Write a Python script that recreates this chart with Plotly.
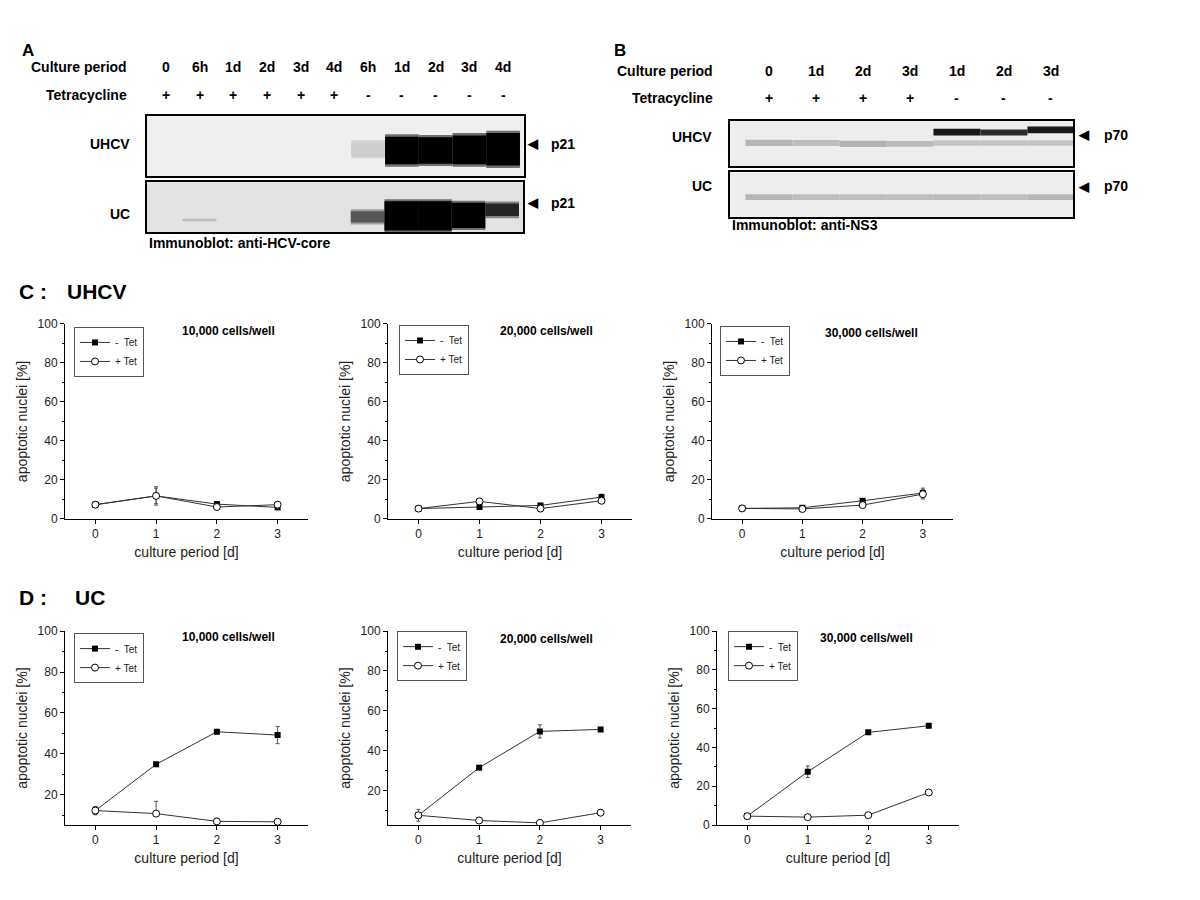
import plotly.graph_objects as go

FONT = "Arial, 'Liberation Sans', sans-serif"

# ---- western blots (A, B) ----
A_PERIOD = ["0", "6h", "1d", "2d", "3d", "4d", "6h", "1d", "2d", "3d", "4d"]
A_TET = ["+", "+", "+", "+", "+", "+", "-", "-", "-", "-", "-"]
# band intensity (0..1), band centre and thickness (fraction of the strip)
A_UHCV_INT = [0, 0, 0, 0, 0, 0, 0.1, 1, 1, 1, 1]
A_UHCV_MID = [0, 0, 0, 0, 0, 0, 0.45, 0.43, 0.43, 0.44, 0.45]
A_UHCV_THK = [0, 0, 0, 0, 0, 0, 0.22, 0.46, 0.44, 0.48, 0.54]
A_UC_INT = [0, 0.2, 0, 0, 0, 0, 0.65, 1, 1, 1, 0.85]
A_UC_MID = [0, 0.25, 0, 0, 0, 0, 0.31, 0.33, 0.33, 0.34, 0.45]
A_UC_THK = [0, 0.05, 0, 0, 0, 0, 0.22, 0.58, 0.58, 0.5, 0.25]

B_PERIOD = ["0", "1d", "2d", "3d", "1d", "2d", "3d"]
B_TET = ["+", "+", "+", "+", "-", "-", "-"]
B_UHCV_LOW_INT = [0.24, 0.2, 0.26, 0.22, 0.16, 0.16, 0.16]
B_UHCV_LOW_MID = [0.52, 0.52, 0.5, 0.5, 0.52, 0.52, 0.52]
B_UHCV_LOW_THK = [0.14, 0.13, 0.14, 0.13, 0.12, 0.12, 0.12]
B_UHCV_HIGH_INT = [0, 0, 0, 0, 0.9, 0.82, 0.9]
B_UHCV_HIGH_MID = [0, 0, 0, 0, 0.76, 0.75, 0.81]
B_UHCV_HIGH_THK = [0, 0, 0, 0, 0.15, 0.13, 0.15]
B_UC_INT = [0.24, 0.2, 0.2, 0.2, 0.22, 0.2, 0.24]
B_UC_MID = [0.44, 0.44, 0.44, 0.44, 0.44, 0.44, 0.44]
B_UC_THK = [0.13, 0.13, 0.13, 0.13, 0.13, 0.13, 0.13]

# ---- apoptosis time courses (C: UHCV, D: UC) ----
DAYS = [0, 1, 2, 3]
CELLS = ["10,000 cells/well", "20,000 cells/well", "30,000 cells/well"]

UHCV_MINUS = [[7.3, 11.8, 7.6, 5.9], [5.3, 6.1, 6.9, 11.2], [5.4, 5.7, 9.3, 13.3]]
UHCV_MINUS_ERR = [[1.0, 4.0, 0.8, 0.8], [0.8, 1.0, 1.0, 1.5], [0.8, 1.0, 1.0, 2.5]]
UHCV_PLUS = [[7.3, 11.8, 6.1, 7.3], [5.3, 9.0, 5.3, 9.3], [5.4, 5.1, 7.1, 12.7]]
UHCV_PLUS_ERR = [[1.0, 4.7, 0.8, 0.8], [0.8, 1.0, 0.8, 1.0], [0.8, 1.0, 1.0, 2.5]]

UC_MINUS = [[12.3, 34.9, 50.8, 49.2], [7.6, 31.5, 49.7, 50.7], [4.6, 27.5, 47.8, 51.2]]
UC_MINUS_ERR = [[2.0, 1.0, 1.0, 4.2], [1.0, 1.0, 3.3, 1.0], [0.8, 3.0, 1.0, 1.0]]
UC_PLUS = [[12.3, 10.8, 7.0, 6.8], [7.6, 5.0, 3.8, 8.9], [4.6, 4.1, 5.1, 16.8]]
UC_PLUS_ERR_UP = [[2.0, 6.0, 1.5, 0.5], [3.0, 0.8, 0.5, 0.8], [0.8, 0.5, 0.5, 0.8]]
UC_PLUS_ERR_DOWN = [[2.0, 0.8, 0.8, 0.5], [3.0, 0.8, 0.5, 0.8], [0.8, 0.5, 0.5, 0.8]]


def fx(px):
    return px / 1200


def fy(py):
    return 1 - py / 900


def ty(py):
    # text anchor: bold labels sit a little low when centred
    return fy(py - 3)


BLOT_SCALE = [[0, "#dcdcdc"], [0.3, "#adadad"], [1, "#000000"]]

fig = go.Figure()
annotations = []
shapes = []
layout = {}


def add_bands(n, inten, mid, thk):
    fig.add_trace(go.Bar(
        x=list(range(len(inten))), y=thk,
        base=[m - t / 2 for m, t in zip(mid, thk)], width=1,
        marker=dict(color=inten, colorscale=BLOT_SCALE, cmin=0, cmax=1,
                    line_width=0),
        xaxis=f"x{n}", yaxis=f"y{n}", showlegend=False, hoverinfo="skip",
    ))


def add_blot(n, xdom, ydom, xrange, bg, bands, halo=False):
    layout[f"xaxis{n}"] = dict(
        domain=[fx(xdom[0]), fx(xdom[1])], range=xrange, anchor=f"y{n}",
        showline=True, mirror=True, linewidth=2, linecolor="black",
        showticklabels=False, ticks="", showgrid=False, zeroline=False,
    )
    layout[f"yaxis{n}"] = dict(
        domain=[fy(ydom[1]), fy(ydom[0])], range=[0, 1], anchor=f"x{n}",
        showline=True, mirror=True, linewidth=2, linecolor="black",
        showticklabels=False, ticks="", showgrid=False, zeroline=False,
    )
    shapes.append(dict(
        type="rect", xref=f"x{n} domain", yref=f"y{n} domain",
        x0=0, x1=1, y0=0, y1=1, fillcolor=bg, line_width=0, layer="below",
    ))
    for inten, mid, thk in bands:
        if halo:
            # soft rim round the saturated bands
            add_bands(n, [i * 0.55 for i in inten], mid,
                      [t + 0.08 if t > 0.1 else t for t in thk])
        add_bands(n, inten, mid, thk)


def bold(text, x, y, size=14, xanchor="center", xref="paper"):
    annotations.append(dict(
        text=f"<b>{text}</b>", x=x, y=y, xref=xref, yref="paper",
        xanchor=xanchor, yanchor="middle", showarrow=False,
        font=dict(size=size, color="black", family=FONT),
    ))


# panel A
add_blot(7, (147, 524), (111, 172), [-0.56, 10.62], "#efefef",
         [(A_UHCV_INT, A_UHCV_MID, A_UHCV_THK)], halo=True)
add_blot(8, (147, 523), (178, 229), [-0.56, 10.62], "#e3e3e3",
         [(A_UC_INT, A_UC_MID, A_UC_THK)], halo=True)
bold("A", fx(20), ty(47), 17, "left")
bold("Culture period", fx(129), ty(64), 14, "right")
bold("Tetracycline", fx(129), ty(92), 14, "right")
for i, (p, t) in enumerate(zip(A_PERIOD, A_TET)):
    bold(p, i, ty(64), 14, "center", "x7")
    bold(t, i, ty(92), 14, "center", "x7")
bold("UHCV", fx(132), ty(142), 14, "right")
bold("UC", fx(132), ty(213), 14, "right")
bold("\u25c0", fx(525), ty(142), 13, "left")
bold("p21", fx(549), ty(142), 14, "left")
bold("\u25c0", fx(525), ty(202), 13, "left")
bold("p21", fx(549), ty(202), 14, "left")
bold("Immunoblot: anti-HCV-core", fx(147), ty(243), 14, "left")

# panel B
add_blot(9, (730, 1073), (116, 162), [-0.83, 6.47], "#ededed",
         [(B_UHCV_LOW_INT, B_UHCV_LOW_MID, B_UHCV_LOW_THK),
          (B_UHCV_HIGH_INT, B_UHCV_HIGH_MID, B_UHCV_HIGH_THK)])
add_blot(10, (730, 1073), (168, 213), [-0.83, 6.47], "#ededed",
         [(B_UC_INT, B_UC_MID, B_UC_THK)])
bold("B", fx(612), ty(47), 17, "left")
bold("Culture period", fx(715), ty(68), 14, "right")
bold("Tetracycline", fx(715), ty(95), 14, "right")
for i, (p, t) in enumerate(zip(B_PERIOD, B_TET)):
    bold(p, i, ty(68), 14, "center", "x9")
    bold(t, i, ty(95), 14, "center", "x9")
bold("UHCV", fx(714), ty(135), 14, "right")
bold("UC", fx(714), ty(185), 14, "right")
bold("\u25c0", fx(1076), ty(133), 13, "left")
bold("p70", fx(1102), ty(133), 14, "left")
bold("\u25c0", fx(1076), ty(185), 13, "left")
bold("p70", fx(1102), ty(185), 14, "left")
bold("Immunoblot: anti-NS3", fx(730), ty(224), 14, "left")

# panels C and D
bold("C :", fx(17), ty(292), 21, "left")
bold("UHCV", fx(65), ty(292), 21, "left")
bold("D :", fx(17), ty(603), 21, "left")
bold("UC", fx(73), ty(603), 21, "left")

axis_font = dict(size=12, color="#222", family=FONT)
title_font = dict(size=14, color="#222", family=FONT)


def add_chart(n, xdom, ydom, ymin, minus, minus_err, plus, plus_up, plus_down,
              cells, title_xy, legend_xy):
    leg = "legend" if n == 1 else f"legend{n}"
    layout[f"xaxis{n}"] = dict(
        domain=[fx(xdom[0]), fx(xdom[1])], range=[-0.5, 3.5], anchor=f"y{n}",
        tickvals=DAYS, ticks="outside", ticklen=4, tickcolor="black",
        showline=True, linecolor="black", linewidth=1, showgrid=False,
        zeroline=False, tickfont=axis_font,
        title=dict(text="culture period [d]", font=title_font, standoff=6),
    )
    layout[f"yaxis{n}"] = dict(
        domain=[fy(ydom[1]), fy(ydom[0])], range=[ymin, 100], anchor=f"x{n}",
        tick0=0, dtick=20, ticks="outside", ticklen=4, tickcolor="black",
        minor=dict(ticks="outside", ticklen=2, dtick=10, tick0=0,
                   tickcolor="black", showgrid=False),
        showline=True, linecolor="black", linewidth=1, showgrid=False,
        zeroline=False, tickfont=axis_font,
        title=dict(text="apoptotic nuclei [%]", font=title_font, standoff=6),
    )
    layout[leg] = dict(
        x=fx(legend_xy[0]), y=fy(legend_xy[1]), xanchor="left", yanchor="top",
        bgcolor="white", bordercolor="#555", borderwidth=1,
        font=dict(size=10, color="#222", family=FONT), itemwidth=30,
        tracegroupgap=0,
    )
    fig.add_trace(go.Scatter(
        x=DAYS, y=minus, name="-  Tet", mode="lines+markers",
        line=dict(color="#333", width=1),
        marker=dict(symbol="square", size=6, color="black"),
        error_y=dict(type="data", array=minus_err, color="#555",
                     thickness=1, width=2),
        xaxis=f"x{n}", yaxis=f"y{n}", legend=leg,
    ))
    fig.add_trace(go.Scatter(
        x=DAYS, y=plus, name="+ Tet", mode="lines+markers",
        line=dict(color="#333", width=1),
        marker=dict(symbol="circle", size=7, color="white",
                    line=dict(color="black", width=1)),
        error_y=dict(type="data", array=plus_up, arrayminus=plus_down,
                     color="#555", thickness=1, width=2),
        xaxis=f"x{n}", yaxis=f"y{n}", legend=leg,
    ))
    bold(cells, fx(title_xy[0]), ty(title_xy[1]), 12, "center")


x_doms_c = [(65, 308), (388, 632), (712, 953)]
x_doms_d = [(65, 308), (388, 631), (717, 959)]
c_titles = [(228, 332), (546, 332), (871, 334)]
d_titles = [(228, 643), (546, 645), (866, 644)]
c_legends = [(74, 325), (399, 323), (720, 324)]
d_legends = [(74, 636), (397, 634), (728, 634)]
d_ymin = [5.2, 2.7, 0]

for k in range(3):
    add_chart(k + 1, x_doms_c[k], (322, 520), 0,
              UHCV_MINUS[k], UHCV_MINUS_ERR[k], UHCV_PLUS[k],
              UHCV_PLUS_ERR[k], UHCV_PLUS_ERR[k], CELLS[k],
              c_titles[k], c_legends[k])
    add_chart(k + 4, x_doms_d[k], (634, 831), d_ymin[k],
              UC_MINUS[k], UC_MINUS_ERR[k], UC_PLUS[k],
              UC_PLUS_ERR_UP[k], UC_PLUS_ERR_DOWN[k], CELLS[k],
              d_titles[k], d_legends[k])

fig.update_layout(
    width=1200, height=900, margin=dict(l=0, r=0, t=0, b=0),
    paper_bgcolor="white", plot_bgcolor="white", barmode="overlay",
    font=dict(family=FONT, color="black"), showlegend=True,
    annotations=annotations, shapes=shapes, **layout,
)

fig.write_html("out.html", config={"displayModeBar": False},
               post_script="document.body.style.margin='0';")
